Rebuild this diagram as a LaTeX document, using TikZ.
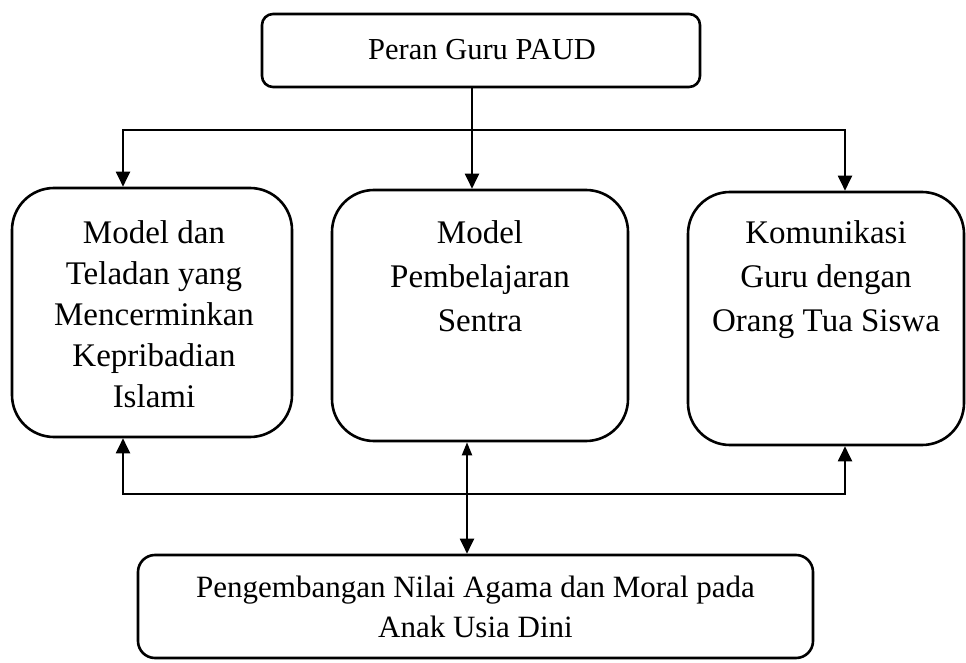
\documentclass[tikz,border=0pt]{standalone}
\usepackage{fontspec}
\setmainfont{Liberation Serif}
\usetikzlibrary{arrows.meta}
\begin{document}
\begin{tikzpicture}[x=1pt,y=-1pt,
  box/.style={draw=black, line width=2.6pt, inner sep=0pt},
  txt/.style={font=\fontsize{33}{44}\selectfont, align=center, inner sep=0pt},
  conn/.style={draw=black, line width=2pt, line join=miter},
  arr/.style={conn, -{Triangle[length=15pt,width=14pt]}},
  darr/.style={conn, {Triangle[length=13pt,width=10pt]}-{Triangle[length=15pt,width=14pt]}}]
\fill[white] (0,0) rectangle (966,663);
\useasboundingbox (0,0) rectangle (966,663);

\node[box, rounded corners=11pt, minimum width=438pt, minimum height=73pt] (top) at (481,50.5) {};
\node[txt, font=\fontsize{30.5}{40}\selectfont] (toptext) at (482,50) {Peran Guru PAUD};

\node[box, rounded corners=42pt, minimum width=280pt, minimum height=249pt] (lbox) at (152,312.5) {};
\node[box, rounded corners=42pt, minimum width=296pt, minimum height=251pt] (mbox) at (480,315.5) {};
\node[box, rounded corners=42pt, minimum width=276pt, minimum height=253pt] (rbox) at (826,318.5) {};

\node[txt, font=\fontsize{33}{41}\selectfont, anchor=north] (ltext) at (154,220) {Model dan\\Teladan yang\\Mencerminkan\\Kepribadian\\Islami};
\node[txt, anchor=north] (mtext) at (480,220) {Model\\Pembelajaran\\Sentra};
\node[txt, anchor=north] (rtext) at (826,220) {Komunikasi\\Guru dengan\\Orang Tua Siswa};

\node[box, rounded corners=17pt, minimum width=675pt, minimum height=103pt, txt, font=\fontsize{31}{40}\selectfont] (bbox) at (475.5,606.5) {Pengembangan Nilai Agama dan Moral pada\\Anak Usia Dini};

\coordinate (j) at (472,130);
\coordinate (jl) at (123,130);
\coordinate (jr) at (845,130);
\draw[conn] (j |- top.south) -- (j);
\draw[arr] (j) -- (jl) -- (jl |- lbox.north);
\draw[arr] (j) -- (jr) -- (jr |- rbox.north);
\draw[arr] (j) -- (j |- mbox.north);

\coordinate (dm) at (467,494);
\coordinate (bl) at (123,494);
\coordinate (br) at (845,494);
\draw[arr] (dm) -- (bl) -- (bl |- lbox.south);
\draw[arr] (dm) -- (br) -- (br |- rbox.south);
\draw[darr] (dm |- mbox.south) -- (dm |- bbox.north);
\end{tikzpicture}
\end{document}
